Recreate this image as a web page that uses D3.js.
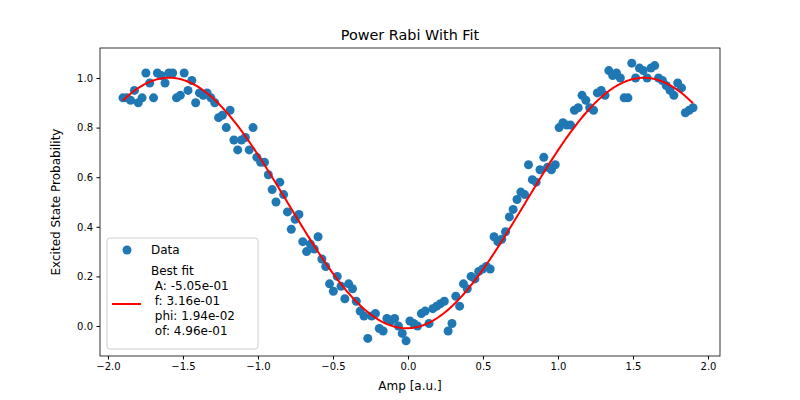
<!DOCTYPE html>
<html><head><meta charset="utf-8">
<script src="https://cdn.jsdelivr.net/npm/d3@7"></script>
<style>body{margin:0;background:#fff}text{font-family:"DejaVu Sans",sans-serif}</style>
</head><body><svg id="c" width="800" height="400"></svg>
<script>
// measured probabilities, evenly spaced amps from -1.9 to 1.9
const probs = [0.92,0.92,0.91,0.95,0.90,0.92,1.02,0.98,0.92,1.02,1.01,0.98,1.02,1.02,0.92,0.93,1.02,0.95,0.99,0.90,
 0.94,0.93,0.94,0.92,0.90,0.84,0.85,0.80,0.87,0.75,0.71,0.75,0.76,0.71,0.80,0.68,0.66,0.66,0.61,0.55,
 0.50,0.58,0.53,0.46,0.39,0.43,0.45,0.34,0.30,0.33,0.31,0.36,0.27,0.24,0.17,0.14,0.20,0.16,0.11,0.17,
 0.15,0.10,0.06,0.04,-0.05,0.04,0.05,-0.01,-0.02,0.03,0.02,0.03,0.00,-0.03,-0.06,0.02,0.01,0.00,0.05,0.06,
 0.01,0.07,0.08,0.09,0.10,-0.02,0.01,0.12,0.08,0.17,0.15,0.20,0.19,0.22,0.23,0.24,0.23,0.36,0.34,0.35,
 0.38,0.44,0.47,0.51,0.54,0.53,0.65,0.59,0.58,0.63,0.68,0.64,0.63,0.65,0.80,0.82,0.81,0.81,0.87,0.88,
 0.93,0.91,0.88,0.87,0.94,0.95,0.93,1.03,1.01,1.02,1.00,0.92,0.92,1.06,1.00,1.04,1.03,1.00,1.04,1.05,
 1.00,0.99,0.97,0.95,0.93,0.98,0.96,0.86,0.87,0.88];
const fitParams = {A: -0.505, f: 0.316, phi: 0.0194, of: 0.496};
const xTicks = [-2.0,-1.5,-1.0,-0.5,0.0,0.5,1.0,1.5,2.0];
const yTicks = [0.0,0.2,0.4,0.6,0.8,1.0];

const n = probs.length;
const amps = probs.map((_, i) => -1.9 + i * 3.8 / (n - 1));
const svg = d3.select('#c');
const L = 100, R = 720, T = 48, B = 356;
const x = d3.scaleLinear().domain([-2.053, 2.08]).range([L, R]);
const y = d3.scaleLinear().domain([-0.121, 1.121]).range([B, T]);

svg.append('g').attr('transform', `translate(0,${B})`)
  .call(d3.axisBottom(x).tickValues(xTicks).tickFormat(d3.format('.1f')).tickSize(3.5).tickPadding(3.5))
  .call(g => g.selectAll('text').attr('font-size', 10).attr('fill', '#000'));
svg.append('g').attr('transform', `translate(${L},0)`)
  .call(d3.axisLeft(y).tickValues(yTicks).tickFormat(d3.format('.1f')).tickSize(3.5).tickPadding(3.5))
  .call(g => g.selectAll('text').attr('font-size', 10).attr('fill', '#000'));
svg.selectAll('.domain').remove();
svg.append('rect').attr('x', L).attr('y', T).attr('width', R - L).attr('height', B - T)
  .attr('fill', 'none').attr('stroke', '#000').attr('stroke-width', 0.8);

svg.append('g').selectAll('circle').data(probs).enter().append('circle')
  .attr('cx', (d, i) => x(amps[i])).attr('cy', d => y(d)).attr('r', 4.5).attr('fill', '#1f77b4');

const fit = v => fitParams.A * Math.cos(2 * Math.PI * fitParams.f * v + fitParams.phi) + fitParams.of;
const fx = d3.range(0, 301).map(i => -1.9 + i * 3.8 / 300);
svg.append('path').datum(fx).attr('fill', 'none').attr('stroke', 'red').attr('stroke-width', 2)
  .attr('d', d3.line().x(d => x(d)).y(d => fit(d)).x(d => x(d)).y(d => y(fit(d))));

svg.append('text').attr('x', (L + R) / 2).attr('y', 40).attr('text-anchor', 'middle').attr('font-size', 14.4).text('Power Rabi With Fit');
svg.append('text').attr('x', (L + R) / 2).attr('y', 390).attr('text-anchor', 'middle').attr('font-size', 12).text('Amp [a.u.]');
svg.append('text').attr('transform', `translate(60,${(T + B) / 2}) rotate(-90)`).attr('text-anchor', 'middle').attr('font-size', 12).text('Excited State Probability');

// legend
const lg = svg.append('g');
lg.append('rect').attr('x', 107).attr('y', 238).attr('width', 151).attr('height', 111).attr('rx', 3)
  .attr('fill', '#fff').attr('fill-opacity', 0.8).attr('stroke', '#ccc');
lg.append('circle').attr('cx', 127).attr('cy', 250).attr('r', 4.5).attr('fill', '#1f77b4');
lg.append('text').attr('x', 151).attr('y', 254).attr('font-size', 12).text('Data');
lg.append('line').attr('x1', 112).attr('x2', 141).attr('y1', 304).attr('y2', 304).attr('stroke', 'red').attr('stroke-width', 2);
const lines = ['Best fit', ' A: -5.05e-01', ' f: 3.16e-01', ' phi: 1.94e-02', ' of: 4.96e-01'];
lg.append('text').attr('x', 151).attr('font-size', 12).attr('xml:space', 'preserve').selectAll('tspan').data(lines).enter()
  .append('tspan').attr('x', 151).attr('y', (d, i) => 275 + i * 15).text(d => d);
</script></body></html>
